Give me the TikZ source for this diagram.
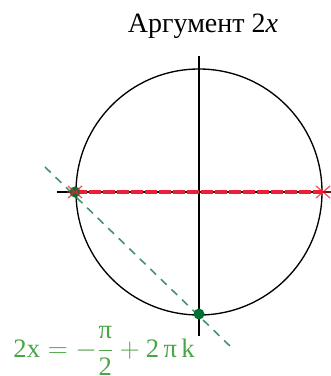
\documentclass[tikz,border=0pt]{standalone}
\usepackage{amsmath}
\usepackage{fontspec}
\setmainfont{Liberation Serif}
\definecolor{eqgreen}{RGB}{75,165,70}
\definecolor{dotgreen}{RGB}{0,115,50}
\definecolor{dashgreen}{RGB}{70,145,110}
\definecolor{starred}{RGB}{240,30,50}

\tikzset{every picture/.style={line width=0.75pt}}

\begin{document}
\begin{tikzpicture}[x=0.75pt,y=0.75pt,yscale=-1,xscale=1,
  redstar/.style={color=starred,line width=1pt},
  gdot/.style={fill=dotgreen,draw=none}]
\useasboundingbox (0,0) rectangle (331,376);

%Points [id:circle points]
\coordinate (O) at (199,192);
\coordinate (L) at (75,192);
\coordinate (R) at (323,192);
\coordinate (B) at (199,314);
\coordinate (axT) at (199,56);
\coordinate (axB) at (199,336);
\coordinate (axL) at (57,192);
\coordinate (axR) at (331,192);
\coordinate (dA) at (45,167);
\coordinate (dB) at (232,348);

%Shape: Circle [id:unit circle]
\draw [line width=1pt] (O) circle [radius=123];
%Straight Lines [id:axes]
\draw [line width=1pt] (axT) -- (axB);
\draw [line width=1pt] (axL) -- (axR);
%Straight Lines [id:red dashed]
\draw [color=starred,line width=2.5pt,dash pattern={on 9pt off 1.5pt}] (L) -- (R);
%Straight Lines [id:green dashed]
\draw [color=dashgreen,line width=1.2pt,dash pattern={on 6pt off 5pt}] (dA) -- (dB);

%Shape: Dots
\fill [gdot] (L) circle [radius=5.5];
\fill [gdot] (B) circle [radius=5.5];

%Shape: Stars
\foreach \p in {L,R}{
  \draw [redstar,opacity=0.75,shift={(\p)}] (-7,-6) -- (7,6) (-7,6) -- (7,-6) (-8,0) -- (8,0);
}

% Text Node
\node [font=\fontsize{21}{24}\selectfont] (title) at (203,26) {Аргумент 2\textit{x}};
% Text Node
\node [anchor=base west,inner sep=0.75pt,color=eqgreen,font=\fontsize{20}{23}\selectfont] (eq) at (12,357) {$\text{2x}=-\dfrac{\text{π}}{\text{2}}+\text{2\,π\,k}$};

\end{tikzpicture}
\end{document}
